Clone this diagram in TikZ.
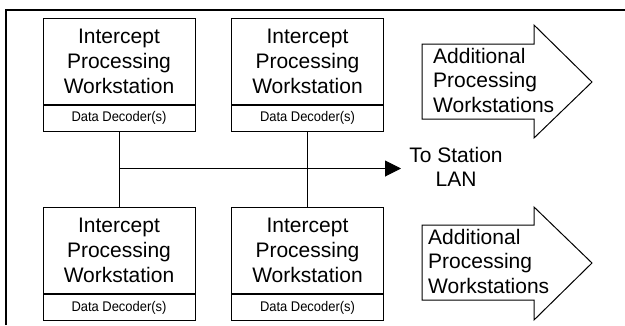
\documentclass[tikz,border=0pt]{standalone}
\usepackage{fontspec}
\setmainfont{Liberation Sans}
\newfontfamily\narrowfont[FakeStretch=0.925]{Liberation Sans}
\usetikzlibrary{positioning,arrows.meta}

\tikzset{
    wsbox/.style={draw, line width=1pt, minimum width=152pt, minimum height=86pt,
                  inner sep=0pt, align=center, font=\fontsize{21}{25}\selectfont},
    decbox/.style={draw, line width=1pt, minimum width=152pt, minimum height=26pt,
                   inner sep=0pt, font=\narrowfont\fontsize{14}{16}\selectfont},
    link/.style={line width=1pt},
    bigtext/.style={inner sep=0pt, font=\fontsize{21}{24.5}\selectfont}
}

\begin{document}
\begin{tikzpicture}[x=1pt, y=-1pt]
    \useasboundingbox (0, 0) rectangle (625, 325);
    % frame
    \draw[line width=2pt] (6, 325) -- (6, 10) -- (625, 10);

    % workstations
    \node[wsbox] (ws1) at (119, 61)      {Intercept\\Processing\\Workstation};
    \node[decbox, below=0pt of ws1] (dec1) {Data Decoder(s)};
    \node[wsbox] (ws2) at (307.5, 61)    {Intercept\\Processing\\Workstation};
    \node[decbox, below=0pt of ws2] (dec2) {Data Decoder(s)};
    \node[wsbox] (ws3) at (119, 250.5)   {Intercept\\Processing\\Workstation};
    \node[decbox, below=0pt of ws3] (dec3) {Data Decoder(s)};
    \node[wsbox] (ws4) at (307.5, 250.5) {Intercept\\Processing\\Workstation};
    \node[decbox, below=0pt of ws4] (dec4) {Data Decoder(s)};

    % station LAN
    \coordinate (lan) at (401, 168.5);
    \node[bigtext, align=center] (lantext) at (456, 167) {To Station\\LAN};
    \draw[link, -{Triangle[length=16pt, width=16pt]}] (dec1.south) |- (lan);
    \draw[link] (ws3.north) -- (ws3.north |- lan);
    \draw[link] (dec2.south) -- (ws4.north);

    % additional workstations
    \draw[line width=1pt] (422, 44) -- (534, 44) -- (534, 25) -- (592, 82)
          -- (534, 138) -- (534, 119) -- (422, 119) -- cycle;
    \node[bigtext, align=left, anchor=west] (more1) at (433, 80)
          {Additional\\Processing\\Workstations};
    \draw[line width=1pt] (422, 225) -- (534, 225) -- (534, 207) -- (592, 263)
          -- (534, 320) -- (534, 300) -- (422, 300) -- cycle;
    \node[bigtext, align=left, anchor=west] (more2) at (428, 261)
          {Additional\\Processing\\Workstations};
\end{tikzpicture}
\end{document}
